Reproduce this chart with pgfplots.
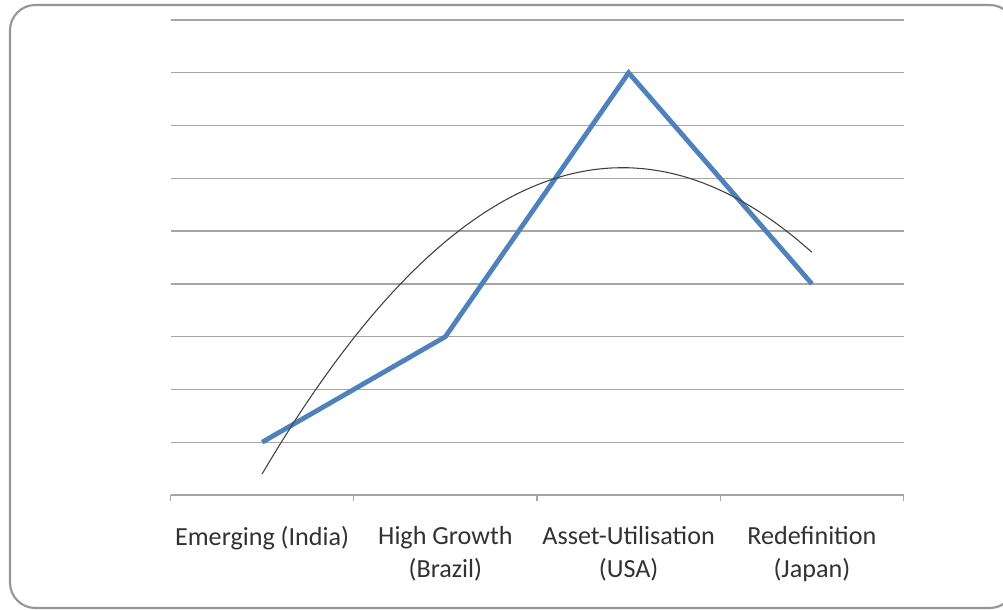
\documentclass[border=0pt]{standalone}
\usepackage{pgfplots}
\pgfplotsset{compat=1.18}
\usepackage{fontspec}
\setmainfont{Carlito}

\definecolor{seriesblue}{RGB}{79,129,189}
\definecolor{gridgray}{RGB}{165,165,165}
\definecolor{framegray}{RGB}{150,150,150}
\definecolor{labelgray}{RGB}{50,50,50}

\begin{document}
\begin{tikzpicture}[x=0.75pt,y=0.75pt]
  % canvas: 1003 x 610 px, 1px = 0.75pt, y measured upward
  \useasboundingbox (0,0) rectangle (1003,610);
  \fill[white] (0,0) rectangle (1003,610);
  \draw[framegray, line width=1.6pt, rounded corners=19pt] (10,2) rectangle (1015,605);

  \begin{axis}[
    at={(170.5*0.75pt,115*0.75pt)}, anchor=south west,
    scale only axis,
    width=549.75pt, height=356.25pt,
    xmin=0.5, xmax=4.5, ymin=0, ymax=9,
    axis x line*=bottom, axis y line*=left,
    y axis line style={draw=none},
    x axis line style={gridgray, line width=1pt},
    ytick={1,2,...,9}, yticklabels={},
    ytick style={draw=none},
    ymajorgrids, grid style={gridgray, line width=1pt},
    xtick={1,2,3,4},
    xticklabels={Emerging (India), {High Growth\\(Brazil)}, {Asset-Utilisation\\(USA)}, {Redefinition\\(Japan)}},
    major x tick style={draw=none},
    minor xtick={0.5,1.5,2.5,3.5,4.5},
    minor x tick style={gridgray, line width=1pt},
    minor tick length=4.5pt,
    tick align=outside,
    xticklabel style={align=center, font=\fontsize{19.6}{24.5}\selectfont, text=labelgray, anchor=north, yshift=-16pt},
    clip=false,
  ]
    % stage scores
    \addplot[seriesblue, line width=3.6pt, line join=miter] coordinates {
      (1,1) (2,3) (3,8) (4,4)
    };
    % second-order polynomial trend through the stage scores
    \addplot[black!75, line width=0.8pt, smooth] coordinates {
      (1.0,0.400) (1.1,0.975) (1.2,1.520) (1.3,2.035) (1.4,2.520)
      (1.5,2.975) (1.6,3.400) (1.7,3.795) (1.8,4.160) (1.9,4.495)
      (2.0,4.800) (2.1,5.075) (2.2,5.320) (2.3,5.535) (2.4,5.720)
      (2.5,5.875) (2.6,6.000) (2.7,6.095) (2.8,6.160) (2.9,6.195)
      (3.0,6.200) (3.1,6.175) (3.2,6.120) (3.3,6.035) (3.4,5.920)
      (3.5,5.775) (3.6,5.600) (3.7,5.395) (3.8,5.160) (3.9,4.895)
      (4.0,4.600)
    };
  \end{axis}
\end{tikzpicture}
\end{document}
